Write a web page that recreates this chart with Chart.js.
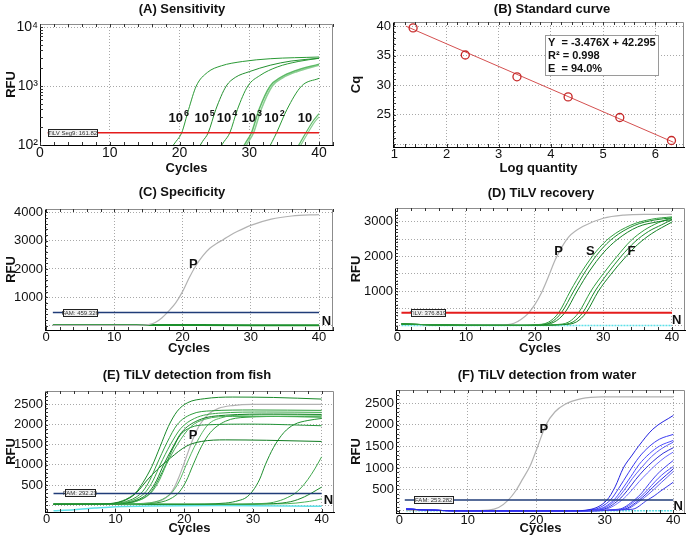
<!DOCTYPE html>
<html>
<head>
<meta charset="utf-8">
<script src="https://cdn.jsdelivr.net/npm/chart.js@4.4.1/dist/chart.umd.min.js"></script>
<style>
  body { margin: 0; background: #fff; }
  #fig { position: relative; width: 691px; height: 540px; }
  canvas { position: absolute; }
</style>
</head>
<body>
<div id="fig">
  <canvas id="cA" width="345" height="180" style="left:0;top:0"></canvas>
  <canvas id="cB" width="346" height="180" style="left:345px;top:0"></canvas>
  <canvas id="cC" width="345" height="180" style="left:0;top:180px"></canvas>
  <canvas id="cD" width="346" height="180" style="left:345px;top:180px"></canvas>
  <canvas id="cE" width="345" height="180" style="left:0;top:360px"></canvas>
  <canvas id="cF" width="346" height="180" style="left:345px;top:360px"></canvas>
</div>
<script>
// ---- data ----
const cycleTicks = [0, 10, 20, 30, 40];

// (A) Sensitivity, log RFU, one curve per dilution
const sensTicks = [100, 1000, 10000];
const sensTickLabels = ['10²', '10³', '10⁴'];
const sensThreshold = 161.82;
const sens1e6 = [[18.5,80],[19.5,115],[20.3,160],[21.3,400],[22.4,1000],[24,1700],[26,2200],[29,2600],[33,2900],[40,3100]];
const sens1e5 = [[22.5,80],[23.3,115],[24.1,160],[25.2,400],[26.7,1000],[28,1400],[30,1750],[33,2250],[36,2650],[40,2950]];
const sens1e4 = [[25.5,80],[26.4,115],[27.2,160],[28.3,400],[29.8,1000],[31.5,1500],[34,2100],[37,2600],[40,2950]];
const sens1e3a = [[28.8,80],[29.6,115],[30.3,160],[31.4,400],[33,1000],[34.5,1400],[36.5,1800],[40,2350]];
const sens1e3b = [[29.1,80],[29.9,115],[30.6,160],[31.7,400],[33.3,1000],[34.8,1380],[36.8,1750],[40,2250]];
const sens1e2 = [[32.6,80],[33.3,115],[33.9,160],[35.4,400],[37.5,1000],[40,1350]];
const sens10a = [[36.6,80],[37.4,115],[38.1,160],[39.1,250],[40,340]];
const sens10b = [[36.9,80],[37.7,115],[38.4,160],[39.3,240],[40,300]];
const dilutionLabels = [['10','6',19.9],['10','5',23.6],['10','4',26.8],['10','3',30.35],['10','2',33.6],['10','',38.0]];

// (B) Standard curve
const stdLogQty = [1.36, 2.36, 3.35, 4.33, 5.32, 6.31];
const stdCq = [39.7, 35.1, 31.4, 28.0, 24.5, 20.6];
const stdFit = [[1.22, 40.0], [6.35, 20.3]];
const stdXTicks = [1, 2, 3, 4, 5, 6];
const stdYTicks = [20, 25, 30, 35, 40];
const stdYLabels = ['', '25', '30', '35', '40'];
const stdNote = ['Y  = -3.476X + 42.295', 'R² = 0.998', 'E  = 94.0%'];

// (C) Specificity
const specTicks = [0, 1000, 2000, 3000, 4000];
const specLabels = ['', '1000', '2000', '3000', '4000'];
const specThreshold = 459.326;
const specP = [[1,5],[12,8],[14,15],[15,35],[16,110],[17,280],[18,520],[19,800],[20,1200],[21,1700],[22,2130],[23,2470],[24,2730],[25,2900],[26,3040],[27,3190],[28,3320],[30,3540],[33,3760],[36,3870],[40,3920]];
const specN = [[1,25],[10,22],[20,18],[30,15],[40,12]];

// (D) TiLV recovery
const recTicks = [0, 500, 1000, 1500, 2000, 2500, 3000];
const recLabels = ['', '', '1000', '', '2000', '', '3000'];
const recThreshold = 376.819;
const recP = [[0.6,45],[5,20],[10,10],[15,15],[17,70],[18,180],[19,340],[20,600],[21,950],[22,1410],[23,1900],[24,2280],[25,2570],[27,2860],[30,3100],[33,3190],[36,3210],[40,3210]];
const recS1 = [[0.6,50],[5,25],[10,12],[18,10],[20,25],[22,100],[23.5,376],[25.2,1000],[27,1600],[29,2150],[31,2550],[34,2900],[37,3070],[40,3140]];
const recS2 = [[0.6,50],[5,25],[10,12],[18,10],[20.4,25],[22.4,100],[23.9,376],[25.7,1000],[27.5,1600],[29.5,2150],[31.5,2540],[34.5,2890],[37.5,3050],[40,3110]];
const recS3 = [[0.6,50],[5,25],[10,12],[18,10],[20.8,25],[22.8,100],[24.4,376],[26.2,1000],[28,1580],[30,2100],[32,2480],[35,2850],[38,3000],[40,3060]];
const recF1 = [[0.6,50],[5,25],[10,12],[20,10],[23,30],[25,110],[26.4,376],[28.2,1000],[30,1500],[32,2000],[34,2450],[36,2760],[38,2970],[40,3110]];
const recF2 = [[0.6,50],[5,25],[10,12],[20,10],[23.6,30],[25.6,110],[27,376],[28.8,1000],[30.6,1500],[32.6,2000],[34.6,2420],[36.6,2720],[38.5,2910],[40,3060]];
const recF3 = [[0.6,50],[5,25],[10,12],[20,10],[24.1,30],[26.1,110],[27.5,376],[29.3,1000],[31.1,1480],[33.1,1950],[35,2340],[37,2650],[40,2990]];
const recN = [[0.6,6],[20,5],[40,8]];

// (E) detection from fish
const fishTicks = [0, 500, 1000, 1500, 2000, 2500];
const fishLabels = ['', '500', '1000', '1500', '2000', '2500'];
const fishThreshold = 292.23;
const fishP = [[1,25],[12,30],[15,60],[16.5,110],[17.3,180],[18,290],[18.6,450],[19.2,680],[19.8,950],[20.5,1280],[21.3,1650],[22.3,2000],[23.5,2250],[25,2400],[27,2470],[30,2500],[40,2500]];
const fishSamples = [
  [[1,25],[8,30],[10,60],[11,110],[12,190],[13,320],[14,560],[15.3,960],[16.5,1450],[17.7,1950],[19,2330],[20.5,2540],[23,2640],[27,2680],[33,2670],[40,2630]],
  [[1,25],[9,30],[11,70],[12,120],[13,200],[14,350],[15,620],[16,1000],[17.5,1550],[19,2000],[21,2250],[24,2340],[30,2360],[40,2350]],
  [[1,25],[9.5,30],[11.5,70],[12.5,120],[13.5,200],[14.5,350],[15.5,620],[16.5,1000],[18,1500],[19.5,1900],[21.5,2150],[25,2280],[32,2310],[40,2300]],
  [[1,25],[10,30],[12,70],[13,120],[14,200],[15,350],[16,620],[17,1000],[18.3,1420],[19.6,1800],[22,2100],[26,2230],[33,2260],[40,2250]],
  [[1,25],[10,30],[12.4,70],[13.4,120],[14.4,200],[15.4,350],[16.4,620],[17.4,1000],[19,1500],[21,1950],[23,2130],[27,2200],[33,2200],[40,2180]],
  [[1,25],[10,30],[12.3,70],[13.3,120],[14.3,200],[15.3,360],[16.3,650],[17.3,1000],[18.4,1420],[19.5,1750],[21,1930],[23,1990],[30,2010],[40,1970]],
  [[1,25],[9,35],[10.5,70],[11.5,130],[12.5,230],[13.5,390],[14.5,600],[16,870],[18,1170],[20.4,1470],[22.5,1580],[26,1620],[32,1610],[40,1580]],
  [[1,25],[12,30],[15,60],[16.3,110],[17.3,190],[18.3,330],[19.3,600],[20.3,1000],[21.8,1550],[23.5,2000],[25.5,2170],[28,2230],[34,2240],[40,2230]],
  [[1,25],[12,30],[16,60],[17.3,110],[18.3,190],[19.3,330],[20.3,600],[21.3,1000],[22.5,1450],[23.8,1800],[26,2080],[29,2180],[35,2200],[40,2190]],
  [[1,25],[20,25],[26,55],[28,120],[29,190],[30,360],[31,650],[31.8,1000],[33,1430],[34.5,1800],[36,2000],[38,2100],[40,2150]],
  [[1,25],[25,25],[32,50],[34,120],[35,190],[36,280],[37,430],[38,640],[39,900],[40,1200]],
  [[1,25],[25,25],[33,40],[35.5,90],[36.5,140],[37.5,210],[38.5,300],[39.3,380],[40,450]],
  [[1,25],[25,25],[35,40],[37.5,80],[39,120],[40,160]]
];
const fishN = [[1,-135],[4,-110],[7,-70],[10,-35],[15,-15],[25,-8],[35,-15],[40,-25]];

// (F) detection from water
const waterTicks = [0, 500, 1000, 1500, 2000, 2500];
const waterLabels = ['', '500', '1000', '1500', '2000', '2500'];
const waterThreshold = 253.282;
const waterP = [[1,15],[10,5],[13,20],[14.5,80],[15.9,253],[17,470],[18,740],[19.1,1050],[20.2,1500],[21.4,2000],[22.7,2300],[24.2,2480],[26.6,2610],[29.5,2650],[40,2650]];
const waterSamples = [
  [[1,45],[3,30],[6,12],[10,2],[25,2],[28,40],[30.3,253],[31.5,560],[32.7,1000],[34,1300],[34.9,1500],[37,1900],[40,2220]],
  [[1,45],[3,30],[6,12],[10,2],[25,2],[28.5,40],[30.8,253],[32,520],[33.5,900],[35,1250],[36.5,1500],[38,1670],[40,1780]],
  [[1,45],[3,30],[6,12],[10,2],[25,2],[29,40],[31.3,253],[32.5,500],[33.8,800],[35,1080],[36.5,1330],[38,1510],[40,1640]],
  [[1,45],[3,30],[6,12],[10,2],[25,2],[29.3,40],[31.6,253],[32.8,480],[34,750],[35.3,1000],[36.8,1260],[38.3,1450],[40,1600]],
  [[1,45],[3,30],[6,12],[10,2],[25,2],[29.7,40],[32,253],[33.3,480],[34.5,730],[35.7,950],[37,1150],[38.5,1340],[40,1470]],
  [[1,45],[3,30],[6,12],[10,2],[25,2],[30,40],[32.5,253],[33.8,460],[35,680],[36.2,880],[37.5,1080],[38.8,1250],[40,1370]],
  [[1,45],[3,30],[6,12],[10,2],[25,2],[32,40],[34.3,253],[35.4,420],[36.5,640],[37.5,830],[38.5,980],[40,1175]],
  [[1,45],[3,30],[6,12],[10,2],[25,2],[32.3,40],[34.6,253],[35.7,400],[36.8,590],[37.8,760],[38.8,900],[40,1035]],
  [[1,45],[3,30],[6,12],[10,2],[25,2],[32.7,40],[35,253],[36,390],[37,550],[38,700],[39,840],[40,980]],
  [[1,45],[3,30],[6,12],[10,2],[25,2],[33,40],[35.3,253],[36.3,380],[37.3,520],[38.3,670],[39.2,800],[40,920]],
  [[1,45],[3,30],[6,12],[10,2],[25,2],[34,40],[36.2,253],[37.2,350],[38.2,470],[39.2,580],[40,670]]
];
const waterN = [[1,3],[40,3]];

// ---- styling ----
const FONT = 'Arial, "Liberation Sans", sans-serif';
Chart.defaults.font.family = FONT;
Chart.defaults.color = '#111';
const greens = ['#1a8a2a','#2f9e3d','#3aa648','#138224','#48b055','#24943a','#0e7a1f','#55b860','#2c9a38','#1f8f30','#3fa84c','#178728','#4cb357'];
const blues = ['#2424e0','#3a3af2','#4d4dff','#5c5cf8','#3030d8','#6b6bff','#4040ee','#5252fa','#2c2ce6','#6060f0','#3636e8'];
const GRAY = '#b2b2b2', RED = '#e41c1c', NAVY = '#203c78', CYAN = '#5ee0e8';

function line(data, color, width, extra) {
  return Object.assign({ data: data, borderColor: color, borderWidth: width || 1, pointRadius: 0,
    cubicInterpolationMode: 'monotone', fill: false }, extra || {});
}
function hline(value, x0, x1, color, width) {
  return line([[x0, value], [x1, value]], color, width, { cubicInterpolationMode: 'default' });
}

// frame, minor ticks, titles, labels, threshold tags
const decor = {
  id: 'decor',
  beforeDraw(chart) {
    const c = chart.ctx;
    c.save(); c.fillStyle = '#fff'; c.fillRect(0, 0, chart.width, chart.height); c.restore();
  },
  afterDraw(chart, args, o) {
    const ctx = chart.ctx, a = chart.chartArea, x = chart.scales.x, y = chart.scales.y;
    ctx.save();
    ctx.lineWidth = 1;
    ctx.strokeStyle = '#8c8c8c';
    ctx.beginPath();
    ctx.moveTo(a.left, a.top + 0.5); ctx.lineTo(a.right - 0.5, a.top + 0.5); ctx.lineTo(a.right - 0.5, a.bottom);
    ctx.stroke();

    ctx.strokeStyle = '#333';
    if (o.minorX) {
      for (let i = Math.ceil(x.min / o.minorX); i * o.minorX <= x.max; i++) {
        const px = Math.round(x.getPixelForValue(i * o.minorX)) + 0.5;
        ctx.beginPath();
        ctx.moveTo(px, a.bottom); ctx.lineTo(px, a.bottom - 3);
        ctx.moveTo(px, a.top); ctx.lineTo(px, a.top + 3);
        ctx.stroke();
      }
    }
    const yv = [];
    if (o.minorY === 'log') {
      for (let d = 100; d <= 10000; d *= 10) for (let k = 1; k < 10; k++) yv.push(k * d);
    } else if (o.minorY) {
      for (let i = Math.ceil(y.min / o.minorY); i * o.minorY <= y.max; i++) yv.push(i * o.minorY);
    }
    yv.filter(v => v >= y.min && v <= y.max).forEach(v => {
      const py = Math.round(y.getPixelForValue(v)) + 0.5;
      ctx.beginPath(); ctx.moveTo(a.left, py); ctx.lineTo(a.left + 3, py); ctx.stroke();
    });

    ctx.fillStyle = '#111';
    ctx.textAlign = 'center';
    ctx.textBaseline = 'middle';
    ctx.font = 'bold 13px ' + FONT;
    ctx.fillText(o.title, o.titleAt[0], o.titleAt[1]);

    (o.labels || []).forEach(l => {
      const px = x.getPixelForValue(l.x), py = y.getPixelForValue(l.y);
      ctx.font = 'bold 13px ' + FONT;
      const w1 = ctx.measureText(l.text).width;
      ctx.font = 'bold 9px ' + FONT;
      const w2 = l.sup ? ctx.measureText(l.sup).width + 1 : 0;
      ctx.textAlign = 'left';
      ctx.font = 'bold 13px ' + FONT;
      ctx.fillText(l.text, px - (w1 + w2) / 2, py);
      if (l.sup) {
        ctx.font = 'bold 9px ' + FONT;
        ctx.fillText(l.sup, px - (w1 + w2) / 2 + w1 + 1, py - 5);
      }
    });

    if (o.tag) {
      const x0 = x.getPixelForValue(o.tag.x0), x1 = x.getPixelForValue(o.tag.x1);
      const py = Math.round(y.getPixelForValue(o.tag.value));
      ctx.fillStyle = '#f2f2f2';
      ctx.fillRect(x0, py - 3.5, x1 - x0, 7);
      ctx.strokeStyle = '#222';
      ctx.strokeRect(Math.round(x0) + 0.5, py - 3.5, Math.round(x1 - x0), 7);
      ctx.fillStyle = '#333';
      ctx.font = '6px ' + FONT;
      ctx.textAlign = 'center';
      ctx.fillText(o.tag.text, (x0 + x1) / 2, py + 0.5);
    }

    if (o.note) {
      const n = o.note;
      ctx.fillStyle = '#fff';
      ctx.fillRect(n.box[0], n.box[1], n.box[2], n.box[3]);
      ctx.strokeStyle = '#9a9a9a';
      ctx.strokeRect(n.box[0] + 0.5, n.box[1] + 0.5, n.box[2], n.box[3]);
      ctx.fillStyle = '#111';
      ctx.font = 'bold 11px ' + FONT;
      ctx.textAlign = 'left';
      n.lines.forEach((t, i) => ctx.fillText(t, n.box[0] + 3, n.box[1] + 8 + i * 13));
    }
    ctx.restore();
  }
};

function axis(s, fit, pad) {
  return {
    type: s.type || 'linear', min: s.min, max: s.max,
    afterBuildTicks: sc => { sc.ticks = s.ticks.map(v => ({ value: v })); },
    afterFit: fit,
    ticks: {
      font: { size: s.size || 13 }, color: '#111', padding: pad, autoSkip: false, maxRotation: 0,
      callback: v => s.labels ? (s.labels[s.ticks.indexOf(v)] ?? '') : String(v)
    },
    grid: { color: '#a8a8a8', lineWidth: 1, drawTicks: false },
    border: { color: '#000', width: 1, dash: [1, 2] },
    title: { display: true, text: s.title, font: { size: 13, weight: 'bold' }, color: '#111', padding: { top: 4, bottom: 4 } }
  };
}

function makePanel(id, p) {
  const cv = document.getElementById(id);
  const W = cv.width, H = cv.height;
  return new Chart(cv, {
    type: 'line',
    data: { datasets: p.datasets },
    options: {
      responsive: false, animation: false, events: [],
      layout: { padding: { top: p.area[1], right: W - p.area[2], left: 0, bottom: 0 } },
      plugins: { legend: { display: false }, tooltip: { enabled: false }, decor: p.decor },
      scales: {
        x: axis(p.x, sc => { sc.height = H - p.area[3]; }, 0),
        y: axis(p.y, sc => { sc.width = p.area[0]; }, 2)
      }
    },
    plugins: [decor]
  });
}

// (A)
makePanel('cA', {
  area: [40, 24, 333, 145],
  x: { min: 0, max: 42, ticks: cycleTicks, title: 'Cycles', size: 14 },
  y: { type: 'logarithmic', min: 100, max: 11250, ticks: sensTicks, labels: sensTickLabels, title: 'RFU', size: 14 },
  datasets: [
    hline(sensThreshold, 1.1, 40, RED, 1.5),
    line(sens1e6, '#2a9a35'), line(sens1e5, '#23902f'), line(sens1e4, '#2a9a35'),
    line(sens1e3a, '#5fba68', 1.5), line(sens1e3b, '#8ccf93', 1.5), line(sens1e2, '#2a9a35'),
    line(sens10a, '#5fba68', 1.2), line(sens10b, '#8ccf93', 1.2)
  ],
  decor: {
    title: '(A) Sensitivity', titleAt: [182, 9], minorX: 2, minorY: 'log',
    labels: dilutionLabels.map(d => ({ text: d[0], sup: d[1], x: d[2], y: 282 })),
    tag: { text: 'TiLV Seg9: ' + sensThreshold, x0: 1.15, x1: 8.2, value: sensThreshold }
  }
});

// (B)
makePanel('cB', {
  area: [48, 22, 339, 147],
  x: { min: 0.975, max: 6.55, ticks: stdXTicks, title: 'Log quantity' },
  y: { min: 19.5, max: 40.7, ticks: stdYTicks, labels: stdYLabels, title: 'Cq' },
  datasets: [
    line(stdLogQty.map((v, i) => [v, stdCq[i]]), '#c62828', 1.2,
      { showLine: false, pointRadius: 4, pointBorderWidth: 1.3, pointBackgroundColor: 'rgba(255,255,255,0)', pointBorderColor: '#c62828' }),
    line(stdFit, '#d55050', 1, { cubicInterpolationMode: 'default' })
  ],
  decor: {
    title: '(B) Standard curve', titleAt: [207, 9], minorX: 0.2, minorY: 1,
    note: { box: [200, 35, 113, 40], lines: stdNote }
  }
});

// (C)
makePanel('cC', {
  area: [45, 29, 333, 150],
  x: { min: -0.15, max: 42.05, ticks: cycleTicks, title: 'Cycles' },
  y: { min: -155, max: 4117, ticks: specTicks, labels: specLabels, title: 'RFU' },
  datasets: [
    hline(specThreshold, 1, 40, NAVY, 1.5),
    line(specP, GRAY, 1.2),
    line(specN, '#1b8f2b', 2)
  ],
  decor: {
    title: '(C) Specificity', titleAt: [182, 12], minorX: 2, minorY: 200,
    labels: [{ text: 'P', x: 21.6, y: 2170 }, { text: 'N', x: 41.1, y: 141 }],
    tag: { text: 'FAM: ' + specThreshold, x0: 2.5, x1: 7.5, value: specThreshold }
  }
});

// (D)
makePanel('cD', {
  area: [50, 28, 340, 150],
  x: { min: -0.34, max: 41.9, ticks: cycleTicks, title: 'Cycles' },
  y: { min: -124, max: 3395, ticks: recTicks, labels: recLabels, title: 'RFU' },
  datasets: [
    hline(recThreshold, 0.6, 40, RED, 2),
    line(recS1, greens[1]), line(recS2, greens[0]), line(recS3, greens[3]),
    line(recF1, greens[1]), line(recF2, greens[0]), line(recF3, greens[3]),
    line(recP, GRAY, 1.2),
    line(recN, CYAN, 1.5, { borderDash: [2, 1] })
  ],
  decor: {
    title: '(D) TiLV recovery', titleAt: [196, 13], minorX: 2, minorY: 100,
    labels: [{ text: 'P', x: 23.5, y: 2134 }, { text: 'S', x: 28.1, y: 2134 }, { text: 'F', x: 34.1, y: 2134 }, { text: 'N', x: 40.7, y: 144 }],
    tag: { text: 'TiLV: ' + recThreshold, x0: 2.0, x1: 6.95, value: recThreshold }
  }
});

// (E)
makePanel('cE', {
  area: [45, 31, 334, 152],
  x: { min: -0.24, max: 41.8, ticks: cycleTicks, title: 'Cycles' },
  y: { min: -166, max: 2830, ticks: fishTicks, labels: fishLabels, title: 'RFU' },
  datasets: [hline(fishThreshold, 1, 40, NAVY, 1.5)]
    .concat(fishSamples.map((d, i) => line(d, greens[i % greens.length])))
    .concat([line(fishP, GRAY, 1.2), line(fishN, CYAN, 1.5)]),
  decor: {
    title: '(E) TiLV detection from fish', titleAt: [187, 15], minorX: 2, minorY: 100,
    labels: [{ text: 'P', x: 21.3, y: 1720 }, { text: 'N', x: 41.0, y: 131 }],
    tag: { text: 'FAM: ' + fishThreshold, x0: 2.7, x1: 7.0, value: fishThreshold }
  }
});

// (F)
makePanel('cF', {
  area: [51, 30, 340, 153],
  x: { min: -0.48, max: 41.7, ticks: cycleTicks, title: 'Cycles' },
  y: { min: -47, max: 2811, ticks: waterTicks, labels: waterLabels, title: 'RFU' },
  datasets: [hline(waterThreshold, 0.8, 40, NAVY, 1.5)]
    .concat(waterSamples.map((d, i) => line(d, blues[i % blues.length])))
    .concat([line(waterP, GRAY, 1.2), line(waterN, CYAN, 1.5, { borderDash: [2, 1] })]),
  decor: {
    title: '(F) TiLV detection from water', titleAt: [202, 15], minorX: 2, minorY: 100,
    labels: [{ text: 'P', x: 21.1, y: 1885 }, { text: 'N', x: 40.7, y: 117 }],
    tag: { text: 'FAM: ' + waterThreshold, x0: 2.15, x1: 7.9, value: waterThreshold }
  }
});
</script>
</body>
</html>
